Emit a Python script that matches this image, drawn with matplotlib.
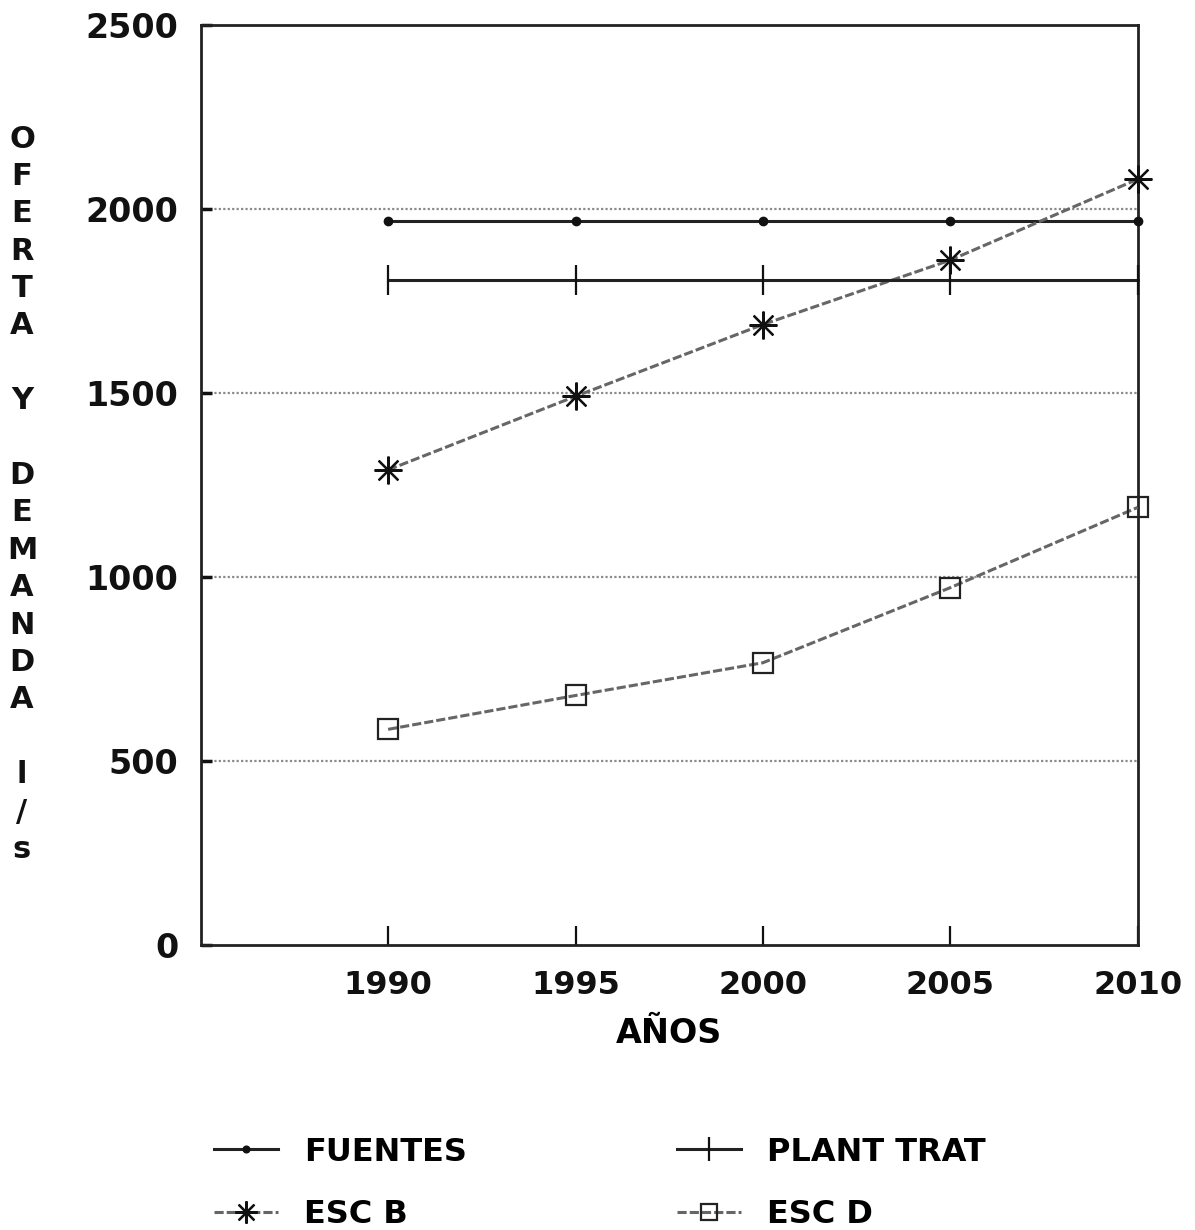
import matplotlib
matplotlib.use("Agg")
import matplotlib.pyplot as plt

# data (l/s)
years = [1990, 1995, 2000, 2005, 2010]
fuentes = [1965, 1965, 1965, 1965, 1965]
plant_trat = [1805, 1805, 1805, 1805, 1805]
esc_b = [1290, 1490, 1685, 1860, 2080]
esc_d = [585, 677, 766, 970, 1188]
y_ticks = [0, 500, 1000, 1500, 2000, 2500]

plt.rcParams['font.family'] = ['DejaVu Sans']
plt.rcParams['font.weight'] = 'bold'

fig = plt.figure(figsize=(11.95, 12.3), dpi=100)
ax = fig.add_axes([0.168, 0.232, 0.784, 0.748])

# grid lines at every 500
for v in y_ticks[1:-1]:
    ax.axhline(v, color='#8a8a8a', lw=1.6, ls=(0, (1, 1)), zorder=1)

ax.plot(years, fuentes, color='#222222', lw=2.2, marker='o', ms=6,
        mfc='#111111', mec='#111111', label='FUENTES', clip_on=False, zorder=3)
ax.plot(years, esc_b, color='#666666', lw=2.2, ls=(0, (3, 1)),
        marker=(8, 2, 0), ms=20, mew=1.6, mec='#111111',
        label='ESC B', clip_on=False, zorder=3)
ax.plot(years, plant_trat, color='#222222', lw=2.2, marker='|', ms=22,
        mew=1.6, mec='#111111', label='PLANT TRAT', clip_on=False, zorder=3)
ax.plot(years, esc_d, color='#666666', lw=2.2, ls=(0, (3, 1)),
        marker='s', ms=15, mfc='none', mew=1.6, mec='#222222',
        label='ESC D', clip_on=False, zorder=3)

ax.set_xlim(1985, 2010)
ax.set_ylim(0, 2500)
ax.set_xticks(years)
ax.set_yticks(y_ticks)
ax.tick_params(axis='x', direction='in', length=14, width=1.6, pad=18,
               labelsize=23, colors='#111111')
ax.tick_params(axis='y', direction='in', length=8, width=2.5, pad=16,
               labelsize=24, colors='#111111')
for s in ax.spines.values():
    s.set_linewidth(2)
    s.set_color('#222222')

ax.set_xlabel('AÑOS', fontsize=24, fontweight='bold', labelpad=12)

# stacked vertical y label
ylabel = 'OFERTA Y DEMANDA l/s'
y0, step = 139, 37.4
for i, ch in enumerate(ylabel):
    if ch == ' ':
        continue
    fig.text(22 / 1195, 1 - (y0 + i * step) / 1230, ch, fontsize=22,
             fontweight='bold', ha='center', va='center', color='#111111')

fig.legend(loc='upper left', bbox_to_anchor=(0.166, 0.089), ncol=2,
           frameon=False, fontsize=23, handlelength=2.0, handletextpad=0.8,
           columnspacing=6.6, labelspacing=1.0, numpoints=1, borderpad=0,
           markerscale=0.8)

fig.savefig('out.png', dpi=100, facecolor='white')
